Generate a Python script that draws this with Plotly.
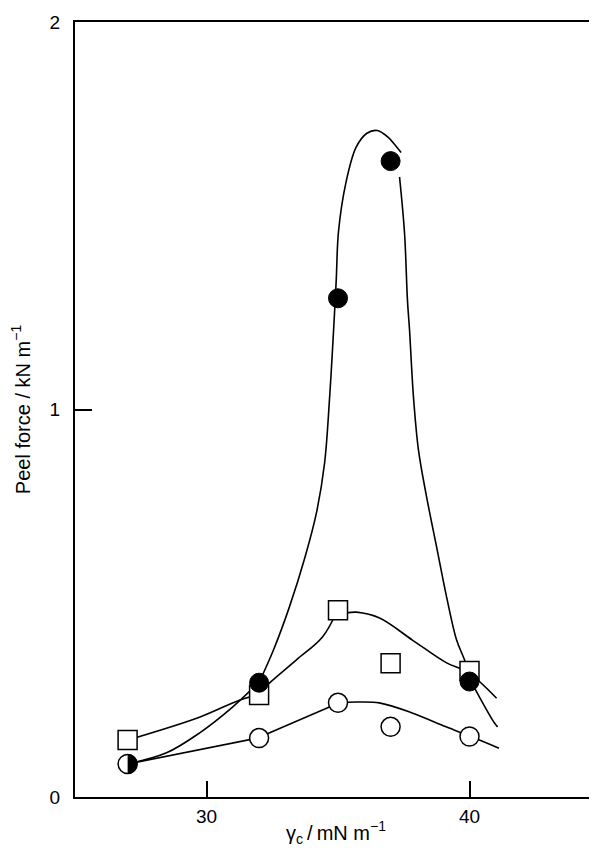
import plotly.graph_objects as go

# Measured points (gamma_c in mN/m, peel force in kN/m)
gamma_c = [27, 32, 35, 37, 40]
filled_force = [0.085, 0.295, 1.287, 1.641, 0.298]   # filled circles (first point half-filled)
square_force = [0.147, 0.263, 0.482, 0.345, 0.325]   # open squares
open_force = [0.085, 0.152, 0.243, 0.181, 0.156]     # open circles

# Hand-drawn guide curves, knots (segments split where a marker hides the joint)
filled_curve_segments = [
    ([27.0, 28.48, 29.73, 30.99, 32.01],
     [0.085, 0.114, 0.165, 0.232, 0.297]),
    ([32.01, 32.55, 33.15, 33.75, 34.18, 34.49, 34.68, 34.79, 34.93, 35.02, 35.30, 35.69, 36.10, 36.49,
      36.90, 37.20, 37.40],
     [0.297, 0.380, 0.490, 0.620, 0.733, 0.862, 1.030, 1.154, 1.330, 1.460, 1.585, 1.677, 1.713, 1.720,
      1.703, 1.680, 1.663]),
    ([37.34, 37.53, 37.64, 37.72, 37.87, 38.06, 38.37, 38.75, 39.13, 39.51, 39.81, 40.08, 40.38, 40.95, 41.07],
     [1.600, 1.455, 1.283, 1.205, 1.032, 0.895, 0.774, 0.645, 0.516, 0.405, 0.354, 0.297, 0.258, 0.191, 0.181]),
]

square_curve_segments = [
    ([27.0, 29.73, 31.25, 31.92],
     [0.147, 0.206, 0.250, 0.263]),
    ([31.92, 32.39, 33.42, 34.41, 34.98],
     [0.263, 0.294, 0.354, 0.413, 0.482]),
    ([34.98, 35.32, 35.70, 36.58, 37.83, 39.13, 39.92, 41.03],
     [0.482, 0.476, 0.477, 0.462, 0.405, 0.346, 0.323, 0.255]),
]

open_curve_segments = [
    ([27.0, 31.94], [0.085, 0.152]),
    ([31.94, 35.05], [0.152, 0.243]),
    ([35.05, 35.69, 36.57, 37.82, 39.11, 40.05, 41.12],
     [0.243, 0.245, 0.243, 0.217, 0.181, 0.156, 0.126]),
]

x_ticks = [30, 40]
y_ticks = [0, 1, 2]

FONT = "Liberation Sans, Arial, Helvetica, sans-serif"


def join_segments(segments):
    xs, ys = [], []
    for i, (sx, sy) in enumerate(segments):
        if i:
            xs.append(None)
            ys.append(None)
        xs.extend(sx)
        ys.extend(sy)
    return xs, ys


fig = go.Figure()

line_style = dict(color="black", width=1.6, shape="spline", smoothing=1.0)
for segs in [filled_curve_segments, square_curve_segments, open_curve_segments]:
    cx, cy = join_segments(segs)
    fig.add_trace(go.Scatter(x=cx, y=cy, mode="lines", line=line_style,
                             connectgaps=False, hoverinfo="skip", showlegend=False))

fig.add_trace(go.Scatter(x=gamma_c, y=square_force, mode="markers",
                         marker=dict(symbol="square", size=19, color="white",
                                     line=dict(color="black", width=1.5)),
                         showlegend=False))
fig.add_trace(go.Scatter(x=gamma_c, y=open_force, mode="markers",
                         marker=dict(symbol="circle", size=19, color="white",
                                     line=dict(color="black", width=1.5)),
                         showlegend=False))
fig.add_trace(go.Scatter(x=gamma_c[1:], y=filled_force[1:], mode="markers",
                         marker=dict(symbol="circle", size=19, color="black",
                                     line=dict(color="black", width=1)),
                         showlegend=False))

# right half of the half-filled marker at the first filled point
r = 10
k = 0.5523 * r
fig.add_shape(type="path", xref="x", yref="y",
              xsizemode="pixel", ysizemode="pixel",
              xanchor=gamma_c[0], yanchor=filled_force[0],
              path=f"M0,{-r} C{k},{-r} {r},{-k} {r},0 C{r},{k} {k},{r} 0,{r} Z",
              fillcolor="black", line=dict(width=0), layer="above")

# page has an 8px body margin, so the figure is 8px smaller than the window
fig.update_layout(
    width=589, height=840,
    margin=dict(l=67, r=0, t=14, b=51),
    paper_bgcolor="white", plot_bgcolor="white",
    font=dict(family=FONT, size=19, color="black"),
    xaxis=dict(range=[25, 25 + 522 / 26.3], tickvals=x_ticks, ticktext=[str(v) for v in x_ticks],
               ticks="inside", ticklen=16, tickwidth=1.5, tickcolor="black",
               ticklabelstandoff=1, tickfont=dict(size=19),
               showline=True, linecolor="black", linewidth=2, mirror=True,
               showgrid=False, zeroline=False,
               title=dict(text="γ<sub>c</sub>\u2009/\u2009mN m<sup>−1</sup>", font=dict(size=20), standoff=0)),
    yaxis=dict(range=[0, 2], tickvals=y_ticks, ticktext=[str(v) for v in y_ticks],
               ticks="inside", ticklen=17, tickwidth=1.5, tickcolor="black",
               ticklabelstandoff=9, tickfont=dict(size=19),
               showline=True, linecolor="black", linewidth=2,
               showgrid=False, zeroline=False,
               title=dict(text="Peel force / kN m<sup>−1</sup>", font=dict(size=20), standoff=14)),
)

fig.write_html("out.html")
